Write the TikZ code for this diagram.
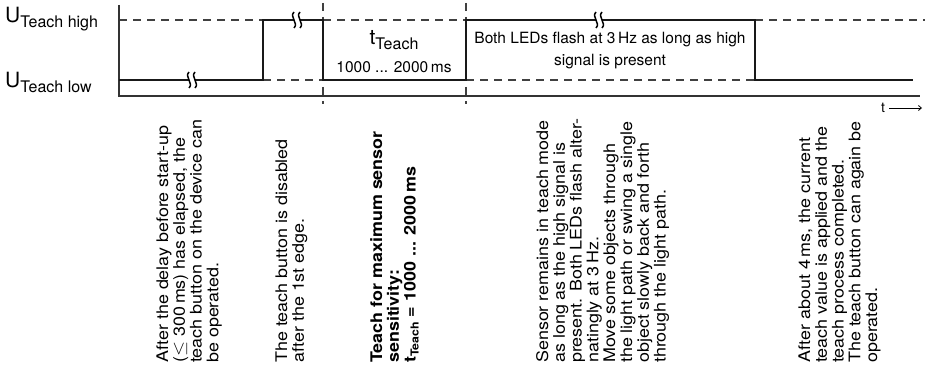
\documentclass[tikz,border=0pt]{standalone}
\usepackage{fontspec}
\usepackage{graphicx}
\setmainfont{TeX Gyre Heros}
\usetikzlibrary{arrows.meta}
\newcommand{\lvlname}[2]{{\fontsize{21}{21}\selectfont #1}\lower5pt\hbox{\fontsize{16}{16}\selectfont #2}}
\newcommand{\vtext}[2][]{\scalebox{1.12}[1]{\vtop{\fontsize{16}{16.8}\selectfont#1\lineskiplimit=-20pt\lineskip=0pt
  \let\\\cr\halign{##\hfil\cr#2\crcr}}}}
\begin{document}
\begin{tikzpicture}[x=1pt,y=-1pt,
  axis/.style={line width=1.3pt,black!80},
  guide/.style={line width=1.1pt,black!75,dash pattern=on 8pt off 6pt},
  sig/.style={line width=2.8pt,black!90},
  note/.style={rotate=90,anchor=base west,inner sep=0pt},
  lbl/.style={font=\fontsize{15.5}{22}\selectfont,align=center,inner sep=0pt},
  tarr/.style={-{Straight Barb[length=3pt,width=5pt]},line width=0.8pt},
  brk/.pic={\fill[white] (-3.2,-2.6) rectangle (3.2,2.6);
    \draw[line width=1.5pt] (-3,-8) .. controls (-8,-3) and (2,3) .. (-3,8);
    \draw[line width=1.5pt] (3,-8) .. controls (-2,-3) and (8,3) .. (3,8);}]
  \useasboundingbox (0,0) rectangle (925,377);
  % levels and time marks
  \draw[guide] (119,20) -- (263,20);
  \draw[guide] (323,20) -- (466,20);
  \draw[guide] (755,20) -- (925,20);
  \draw[guide] (263,80) -- (323,80);
  \draw[guide] (466,80) -- (755,80);
  \draw[guide] (323,3) -- (323,104);
  \draw[guide] (466,3) -- (466,104);
  \draw[axis] (119,5) -- (119,96) -- (920,96);
  % teach signal
  \draw[sig] (119,80) -- (263,80) -- (263,20) -- (323,20) -- (323,80) -- (466,80)
    -- (466,20) -- (755,20) -- (755,80) -- (913,80);
  \pic at (192,80) {brk};
  \pic at (297,20) {brk};
  \pic at (599,20) {brk};
  % labels
  \node[anchor=base west,inner sep=0pt] (uhigh) at (5,23) {\lvlname{U}{Teach high}};
  \node[anchor=base west,inner sep=0pt] (ulow) at (5,88) {\lvlname{U}{Teach low}};
  \node[lbl] (tteach) at (394,40) {\lvlname{t}{Teach}};
  \node[lbl] (trange) at (394,67) {1000 ... 2000\,ms};
  \node[lbl] (flash) at (610,51) {Both LEDs flash at 3\,Hz as long as high\\signal is present};
  \node[inner sep=0pt,font=\fontsize{14}{14}\selectfont] (tlab) at (883,108) {t};
  \coordinate (tend) at (922,108);
  \draw[tarr] ([xshift=4pt]tlab.east) -- (tend);
  % notes
  \node[note] (n1) at (168,363) {\vtext{After the delay before start-up\\($\leq$ 300\,ms) has elapsed, the\\teach button on the device can\\be operated.}};
  \node[note] (n2) at (287,363) {\vtext{The teach button is disabled\\after the 1st edge.}};
  \node[note] (n3) at (382,363) {\vtext[\bfseries]{Teach for maximum sensor\\sensitivity:\\t\lower3pt\hbox{\fontsize{11}{11}\selectfont Teach} = 1000 ... 2000\,ms}};
  \node[note] (n4) at (548,363) {\vtext{Sensor remains in teach mode\\as long as the high signal is\\present. Both LEDs flash alter-\\natingly at 3\,Hz.\\Move some objects through\\the light path or swing a single\\object slowly back and forth\\through the light path.}};
  \node[note] (n5) at (810,363) {\vtext{After about 4\,ms, the current\\teach value is applied and the\\teach process completed.\\The teach button can again be\\operated.}};
\end{tikzpicture}
\end{document}
